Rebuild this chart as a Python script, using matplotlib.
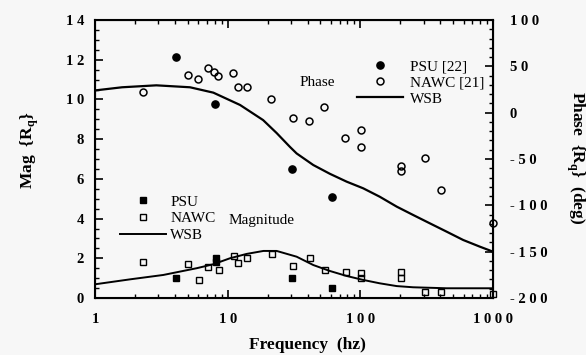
import numpy as np
import matplotlib
matplotlib.use("Agg")
import matplotlib.pyplot as plt
from matplotlib.ticker import FixedLocator, FixedFormatter, MultipleLocator, LogLocator, NullFormatter

plt.rcParams['font.family'] = ['Liberation Serif', 'DejaVu Serif']
plt.rcParams['mathtext.fontset'] = 'custom'
plt.rcParams['mathtext.rm'] = 'Liberation Serif:bold'
plt.rcParams['mathtext.bf'] = 'Liberation Serif:bold'

# ---- phase data (deg, right axis) ----
psu_ph_f = [4.06, 8.0, 30.3, 60.8]
psu_ph = [60, 9.4, -60.8, -90.7]

nawc_ph_f = [2.31, 4.99, 6.0, 7.07, 7.9, 8.5, 11.0, 12.0, 14.1, 21.1,
             31.2, 41.2, 53.5, 77, 101.6, 101.6, 204, 204, 305, 407, 1000]
nawc_ph = [22, 40.3, 36.3, 48, 44.2, 39.9, 42.5, 27.4, 27.4, 14.4,
           -6.1, -8.7, 5.8, -27, -19, -37, -57.2, -62.6, -49.3, -83.4, -118.7]

wsb_ph_f = [1.0, 1.6, 2.9, 5.2, 7.8, 12.4, 18.5, 23.4, 29.5, 33.1, 44.2, 59,
            79, 105, 140, 188, 250, 334, 447, 596, 796, 1000]
wsb_ph = [24, 27.4, 29.5, 27.4, 21.6, 8.3, -8, -22, -37, -44, -56.5, -66,
          -74.5, -81.6, -90.7, -101.4, -110.4, -119.4, -128.4, -137.4, -144.6, -150]

# ---- magnitude data (left axis) ----
psu_mag_f = [4.06, 8.1, 8.1, 30.5, 60.8]
psu_mag = [1.02, 2.03, 1.80, 0.99, 0.49]

nawc_mag_f = [2.31, 5.05, 6.08, 7.15, 8.6, 11.1, 12.0, 14.1, 21.4, 31.2,
              41.7, 54.2, 77.6, 101, 101, 204, 204, 307, 407, 1000]
nawc_mag = [1.83, 1.70, 0.91, 1.58, 1.41, 2.13, 1.78, 2.0, 2.22, 1.61,
            2.03, 1.41, 1.29, 1.24, 1.02, 1.32, 0.99, 0.29, 0.29, 0.19]

wsb_mag_f = [1.0, 1.84, 3.27, 5.84, 7.8, 10.4, 13.9, 18.6, 23.4, 33.1, 44.2,
             59, 78.8, 105, 140, 188, 250, 447, 1000]
wsb_mag = [0.69, 0.94, 1.16, 1.50, 1.70, 2.0, 2.22, 2.37, 2.37, 2.08, 1.66,
           1.36, 1.11, 0.91, 0.74, 0.60, 0.54, 0.49, 0.49]

x_ticks = [1, 10, 100, 1000]
x_labels = ['1', '1 0', '1 0 0', '1 0 0 0']
mag_ticks = [0, 2, 4, 6, 8, 10, 12, 14]
mag_labels = ['0', '2', '4', '6', '8', '1 0', '1 2', '1 4']
ph_ticks = [-200, -150, -100, -50, 0, 50, 100]
ph_labels = ['- 2 0 0', '- 1 5 0', '- 1 0 0', '- 5 0', '0', '5 0', '1 0 0']

bg = '#f7f7f7'
fig = plt.figure(figsize=(5.86, 3.55), dpi=100, facecolor=bg)
ax = fig.add_axes([95/586, 57/355, 398/586, 278/355])
ax.set_facecolor(bg)
ax2 = ax.twinx()

k = 'black'
# magnitude
m1, = ax.plot(psu_mag_f, psu_mag, 's', color=k, ms=5, label='PSU', zorder=3, clip_on=False)
m2, = ax.plot(nawc_mag_f, nawc_mag, 's', mfc='none', mec=k, mew=1.0, ms=5, label='NAWC',
              zorder=3, clip_on=False)
m3, = ax.plot(wsb_mag_f, wsb_mag, '-', color=k, lw=1.4, label='WSB')
# phase
p1, = ax2.plot(psu_ph_f, psu_ph, 'o', color=k, ms=5.2, label='PSU [22]', zorder=3, clip_on=False)
p2, = ax2.plot(nawc_ph_f, nawc_ph, 'o', mfc='none', mec=k, mew=1.1, ms=5, label='NAWC [21]',
               zorder=3, clip_on=False)
p3, = ax2.plot(wsb_ph_f, wsb_ph, '-', color=k, lw=1.6, label='WSB')

ax.set_xscale('log')
ax.set_xlim(1, 1000)
ax.set_ylim(0, 14)
ax2.set_ylim(-200, 100)

ax.xaxis.set_major_locator(FixedLocator(x_ticks))
ax.xaxis.set_major_formatter(FixedFormatter(x_labels))
ax.xaxis.set_minor_locator(LogLocator(base=10, subs=np.arange(2, 10)))
ax.xaxis.set_minor_formatter(NullFormatter())
ax.yaxis.set_major_locator(FixedLocator(mag_ticks))
ax.yaxis.set_major_formatter(FixedFormatter(mag_labels))
ax.yaxis.set_minor_locator(MultipleLocator(0.5))
ax2.yaxis.set_major_locator(FixedLocator(ph_ticks))
ax2.yaxis.set_major_formatter(FixedFormatter(ph_labels))
ax2.yaxis.set_minor_locator(MultipleLocator(10))

ax.tick_params(axis='x', which='both', direction='in', top=True, bottom=True, pad=11)
ax.tick_params(axis='y', which='both', direction='in', left=True, right=False, pad=8)
ax2.tick_params(axis='y', which='both', direction='in', right=True, pad=12)
for a in (ax, ax2):
    a.tick_params(which='major', length=6, width=1.2)
    a.tick_params(which='minor', length=3, width=1.0)
    for lab in a.get_xticklabels() + a.get_yticklabels():
        lab.set_fontsize(10.5)
        lab.set_fontweight('bold')
for s in ax.spines.values():
    s.set_linewidth(1.5)

# axis titles
fig.text(307/586, 1 - 345/355, 'Frequency  (hz)', ha='center', va='center',
         fontsize=12.5, fontweight='bold')
fig.text(30/586, 1 - 150/355, r'Mag  {R$_{\mathbf{q}}$}', ha='center', va='center',
         rotation=90, fontsize=12.5, fontweight='bold')
fig.text(575/586, 1 - 158/355, r'Phase  {R$_{\mathbf{q}}$}  (deg)', ha='center', va='center',
         rotation=-90, fontsize=12.5, fontweight='bold')

# legends
leg1 = ax2.legend(handles=[p1, p2, p3], loc='upper left', bbox_to_anchor=(357/586, 1 - 60/355),
                  bbox_transform=fig.transFigure, frameon=False, fontsize=11, handlelength=3,
                  handletextpad=0.5, labelspacing=0.15, borderpad=0, borderaxespad=0)
leg2 = ax2.legend(handles=[m1, m2, m3], loc='upper left', bbox_to_anchor=(120/586, 1 - 195/355),
                  bbox_transform=fig.transFigure, frameon=False, fontsize=11, handlelength=3,
                  handletextpad=0.3, labelspacing=0.2, borderpad=0, borderaxespad=0)
ax2.add_artist(leg1)
fig.text(300/586, 1 - 82/355, 'Phase', ha='left', va='center', fontsize=11)
fig.text(229/586, 1 - 221/355, 'Magnitude', ha='left', va='center', fontsize=11)

fig.savefig('out.png', dpi=100, facecolor=bg)
